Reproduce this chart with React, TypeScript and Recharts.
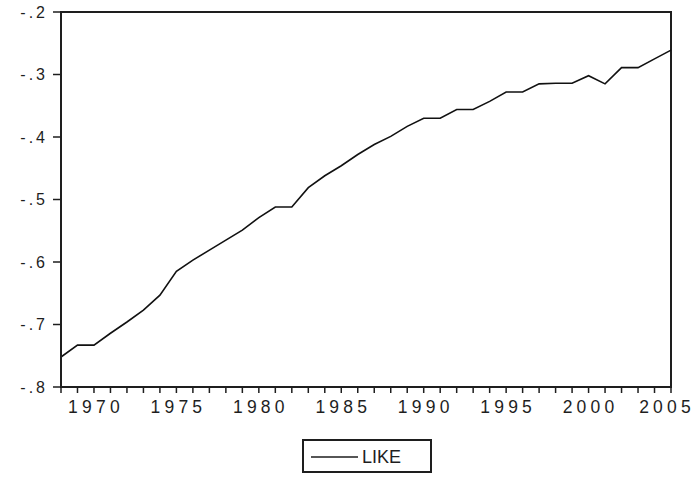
import React from "react";
import { LineChart, Line, XAxis, YAxis, ReferenceArea, Legend } from "recharts";

const years = [
  1968, 1969, 1970, 1971, 1972, 1973, 1974, 1975, 1976, 1977, 1978, 1979, 1980,
  1981, 1982, 1983, 1984, 1985, 1986, 1987, 1988, 1989, 1990, 1991, 1992, 1993,
  1994, 1995, 1996, 1997, 1998, 1999, 2000, 2001, 2002, 2003, 2004, 2005,
];
const like = [
  -0.752, -0.733, -0.733, -0.714, -0.696, -0.677, -0.653, -0.615, -0.597, -0.581,
  -0.565, -0.549, -0.529, -0.512, -0.512, -0.481, -0.462, -0.446, -0.428, -0.412,
  -0.399, -0.383, -0.370, -0.370, -0.356, -0.356, -0.343, -0.328, -0.328, -0.315,
  -0.314, -0.314, -0.302, -0.315, -0.289, -0.289, -0.275, -0.261,
];
const yTicks = [-0.8, -0.7, -0.6, -0.5, -0.4, -0.3, -0.2];
const yTickLabels = ["-.8", "-.7", "-.6", "-.5", "-.4", "-.3", "-.2"];
const seriesName = "LIKE";

const data = years.map((y, i) => ({ year: y, like: like[i] }));

const FONT = '"Liberation Sans", Arial, sans-serif';
const INK = "#1e1e1e";
const LAST_YEAR = years[years.length - 1];

const XTick = (props: any) => {
  const { x, y, payload } = props;
  if (payload.value % 5 !== 0) return null;
  const isLast = payload.value === LAST_YEAR;
  return (
    <text
      x={x}
      y={y}
      dx={isLast ? -4 : 2}
      dy="0.71em"
      textAnchor="middle"
      fontFamily={FONT}
      fontSize={17.5}
      style={{ letterSpacing: "4.2px" }}
      fill={INK}
    >
      {String(payload.value)}
    </text>
  );
};

const YTick = (props: any) => {
  const { x, y, payload } = props;
  const idx = yTicks.findIndex((t) => Math.abs(t - payload.value) < 1e-9);
  const label = idx >= 0 ? yTickLabels[idx] : String(payload.value);
  return (
    <text
      x={x}
      y={y}
      dx={3}
      dy="0.36em"
      textAnchor="end"
      fontFamily={FONT}
      fontSize={16}
      style={{ letterSpacing: "3px" }}
      fill={INK}
    >
      {label}
    </text>
  );
};

const LegendBox = () => (
  <div
    style={{
      width: 130,
      height: 34,
      boxSizing: "border-box",
      border: `2px solid ${INK}`,
      background: "#fff",
      display: "flex",
      alignItems: "center",
      fontFamily: FONT,
    }}
  >
    <svg width={58} height={30} style={{ display: "block" }}>
      <line x1={7} x2={54} y1={16} y2={16} stroke={INK} strokeWidth={1.5} />
    </svg>
    <span style={{ fontSize: 18, color: INK, lineHeight: "18px", marginTop: 1 }}>
      {seriesName}
    </span>
  </div>
);

export default function App() {
  return (
    <div style={{ position: "absolute", left: 0, top: 0, width: 699, height: 481, background: "#fff" }}>
      <LineChart
        width={699}
        height={481}
        data={data}
        margin={{ top: 12, right: 28, bottom: 64, left: 0 }}
      >
        <ReferenceArea
          x1={1968}
          x2={2005}
          y1={-0.8}
          y2={-0.2}
          fill="none"
          stroke={INK}
          strokeWidth={2}
          ifOverflow="visible"
        />
        <XAxis
          dataKey="year"
          type="number"
          domain={[1968, 2005]}
          ticks={years}
          interval={0}
          height={30}
          tick={<XTick />}
          tickSize={6}
          tickMargin={8}
          axisLine={{ stroke: INK, strokeWidth: 2 }}
          tickLine={{ stroke: INK, strokeWidth: 1.5 }}
        />
        <YAxis
          type="number"
          domain={[-0.8, -0.2]}
          ticks={yTicks}
          interval={0}
          width={61}
          tick={<YTick />}
          tickSize={8}
          tickMargin={8}
          axisLine={{ stroke: INK, strokeWidth: 2 }}
          tickLine={{ stroke: INK, strokeWidth: 1.5 }}
        />
        <Line
          dataKey="like"
          name={seriesName}
          type="linear"
          stroke="#111"
          strokeWidth={1.6}
          dot={false}
          activeDot={false}
          isAnimationActive={false}
        />
        <Legend
          layout="horizontal"
          verticalAlign="middle"
          align="center"
          content={<LegendBox />}
          wrapperStyle={{ left: 302, top: 439, width: 130, height: 34 }}
        />
      </LineChart>
    </div>
  );
}
